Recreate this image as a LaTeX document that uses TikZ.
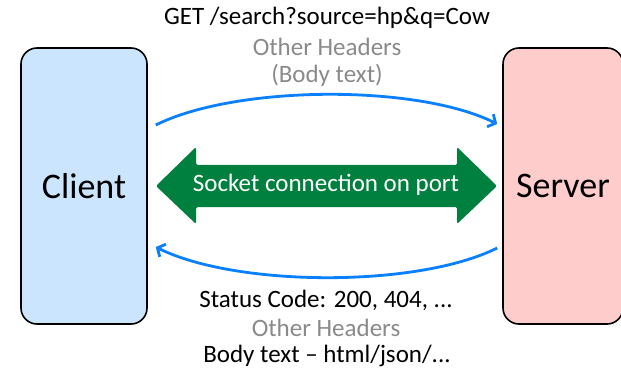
\documentclass[tikz,border=0pt]{standalone}
\usepackage{fontspec}
\setmainfont{Carlito}
\usetikzlibrary{arrows.meta}
\definecolor{clientfill}{HTML}{CCE5FF}
\definecolor{serverfill}{HTML}{FFCCCC}
\definecolor{sockgreen}{HTML}{00803E}
\definecolor{msgblue}{HTML}{0A80FF}
\definecolor{hdrgray}{HTML}{8A8A8A}
\begin{document}
\begin{tikzpicture}[x=1pt,y=1pt,
  hostbox/.style={draw=black, line width=1.6pt, rounded corners=16pt, inner sep=0pt,
    font=\fontsize{36}{40}\selectfont, minimum height=276pt},
  msgtext/.style={font=\fontsize{25}{29}\selectfont, inner sep=0pt, anchor=center},
  msgarrow/.style={draw=msgblue, line width=2.8pt, -{Straight Barb[length=6pt,width=14pt]}}]
\useasboundingbox (0,0) rectangle (621,370);
\clip (0,0) rectangle (621,370);
\node[hostbox, fill=clientfill, minimum width=126pt] (client) at (84,184) {Client};
\node[hostbox, fill=serverfill, minimum width=120pt] (server) at (563,184) {Server};
% socket double arrow
\fill[sockgreen, rounded corners=1.5pt] (156,184) -- (196,223) -- (196,205) -- (457,205) -- (457,223)
  -- (497,184) -- (457,146) -- (457,163) -- (196,163) -- (196,146) -- cycle;
\node[msgtext, text=white] (socket) at (326,185) {Socket connection on port};
% request
\draw[msgarrow] ([shift={(8,61)}]client.east) .. controls +(80,40) and +(-80,40) .. ([shift={(-5,62)}]server.west);
% response
\draw[msgarrow] ([shift={(-5,-62)}]server.west) .. controls +(-80,-40) and +(80,-40) .. ([shift={(8,-61)}]client.east);
\node[msgtext] (req1) at (327,352) {GET /search?source=hp\&q=Cow};
\node[msgtext, text=hdrgray] (req2) at (327,323) {Other Headers};
\node[msgtext, text=hdrgray] (req3) at (327,295) {(Body text)};
\node[msgtext] (res1) at (326,70) {Status Code: 200, 404, ...};
\node[msgtext, text=hdrgray] (res2) at (326,42) {Other Headers};
\node[msgtext] (res3) at (327,14) {Body text – html/json/...};
\end{tikzpicture}
\end{document}
